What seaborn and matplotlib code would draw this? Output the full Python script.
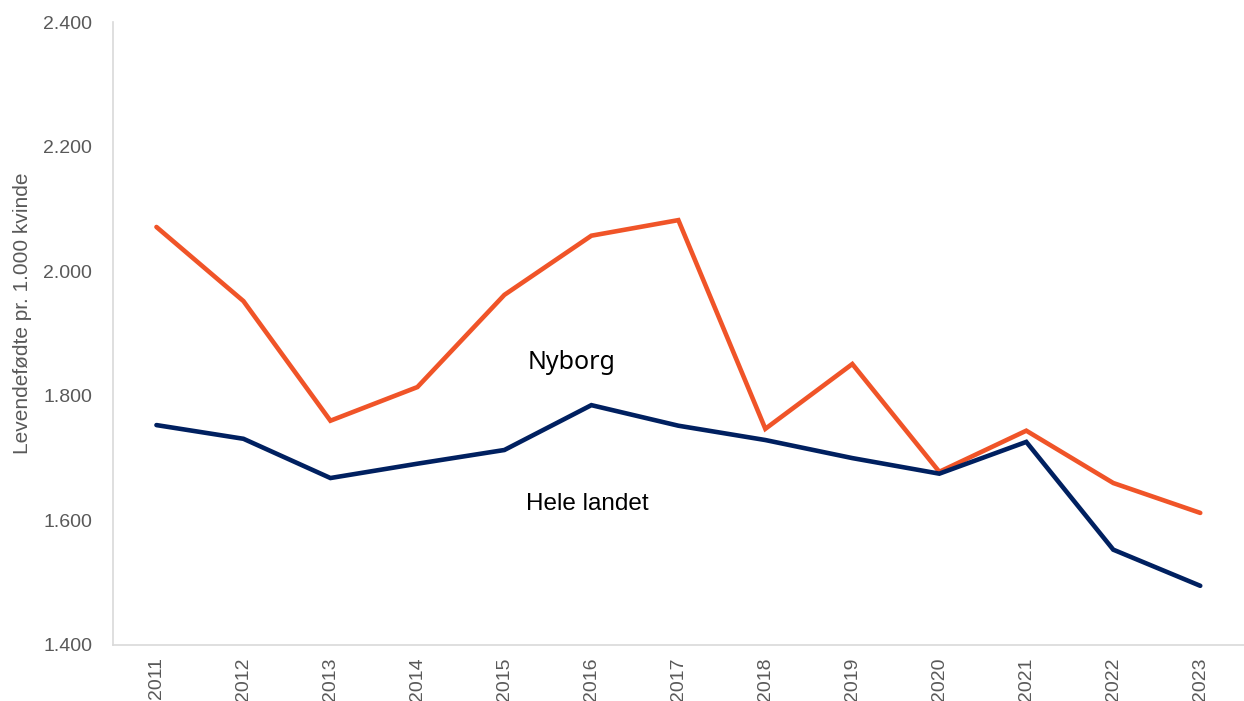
import pandas as pd
import seaborn as sns
import matplotlib.pyplot as plt
from matplotlib.ticker import FuncFormatter

# data
years = ["2011", "2012", "2013", "2014", "2015", "2016", "2017",
         "2018", "2019", "2020", "2021", "2022", "2023"]
nyborg = [2071, 1952, 1760, 1814, 1962, 2057, 2082, 1747, 1851, 1678, 1744, 1660, 1612]
hele_landet = [1753, 1731, 1668, 1691, 1713, 1785, 1752, 1729, 1700, 1675, 1726, 1553, 1495]

df = pd.DataFrame({
    "year": years * 2,
    "value": nyborg + hele_landet,
    "series": ["Nyborg"] * len(years) + ["Hele landet"] * len(years),
})

sns.set_style("white")
plt.rcParams["font.family"] = ["Liberation Sans", "DejaVu Sans"]

fig = plt.figure(figsize=(12.44, 7.01), dpi=100)
ax = fig.add_axes([0.0908, 0.0799, 0.909, 0.8887])

sns.lineplot(data=df, x="year", y="value", hue="series",
             palette={"Nyborg": "#F05428", "Hele landet": "#002060"},
             linewidth=3.3, legend=False, ax=ax,
             solid_capstyle="round", solid_joinstyle="miter")

ax.set_xlim(-0.5, len(years) - 0.5)
ax.set_ylim(1400, 2400)
ax.set_yticks(range(1400, 2401, 200))
ax.yaxis.set_major_formatter(FuncFormatter(lambda v, p: f"{int(v):,}".replace(",", ".")))
ax.set_xlabel("")
ax.set_ylabel("Levendefødte pr. 1.000 kvinde", fontsize=15, color="#595959")
ax.yaxis.set_label_coords(-0.072, 0.532)
ax.tick_params(axis="both", length=0, labelsize=14, labelcolor="#595959")
ax.tick_params(axis="x", rotation=90, pad=9)
ax.tick_params(axis="y", pad=15)

for side in ["top", "right"]:
    ax.spines[side].set_visible(False)
for side in ["left", "bottom"]:
    ax.spines[side].set_color("#D9D9D9")
    ax.spines[side].set_linewidth(1.2)

# series labels
ax.text(4.77, 1853, "Nyborg", fontsize=18, family=["Noto Sans", "DejaVu Sans"],
        ha="center", va="center", color="black")
ax.text(4.95, 1626, "Hele landet", fontsize=17.5, ha="center", va="center", color="black")

fig.savefig("out.png", dpi=100)
